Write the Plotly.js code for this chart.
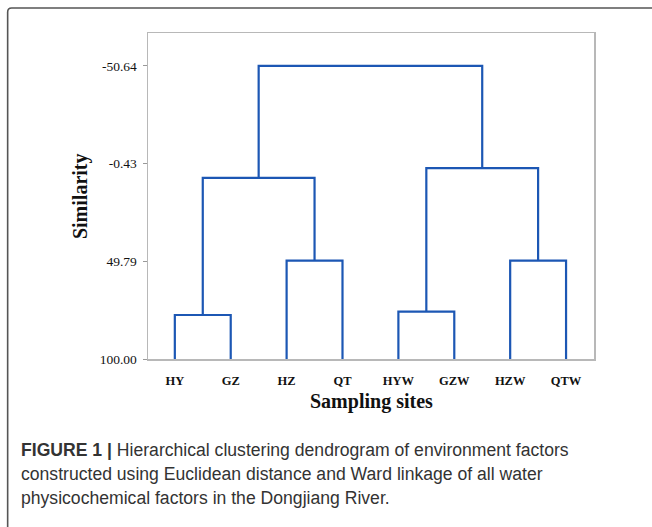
<!DOCTYPE html>
<html>
<head>
<meta charset="utf-8">
<script src="https://cdn.plot.ly/plotly-3.0.1.min.js"></script>
<style>
html,body{margin:0;padding:0;background:#fff;}
#chart{width:652px;height:527px;}
</style>
</head>
<body>
<div id="chart"></div>
<script>
// Leaves (sampling sites), in dendrogram order
const leaves = ["HY", "GZ", "HZ", "QT", "HYW", "GZW", "HZW", "QTW"];
// Linkage: node ids 0..7 are leaves, new nodes numbered 8, 9, ...
const mergeA = [0, 4, 2, 6, 8, 9, 12];
const mergeB = [1, 5, 3, 7, 10, 11, 13];
const mergeSimilarity = [77.4, 75.7, 49.5, 49.5, 6.9, 1.9, -50.64];
const leafSimilarity = 100;
// Y ticks
const yTickVals = [-50.64, -0.43, 49.79, 100];
const yTickText = ["-50.64", "-0.43", "49.79", "100.00"];

const captionLines = [
  "<b>FIGURE 1 |</b> Hierarchical clustering dendrogram of environment factors",
  "constructed using Euclidean distance and Ward linkage of all water",
  "physicochemical factors in the Dongjiang River."
];

// Build node positions
const nodeX = leaves.map((_, i) => i + 1);
const nodeH = leaves.map(() => leafSimilarity);
const xs = [], ys = [];
for (let k = 0; k < mergeA.length; k++) {
  const a = mergeA[k], b = mergeB[k], h = mergeSimilarity[k];
  xs.push(nodeX[a], nodeX[a], nodeX[b], nodeX[b], null);
  ys.push(nodeH[a], h, h, nodeH[b], null);
  nodeX.push((nodeX[a] + nodeX[b]) / 2);
  nodeH.push(h);
}

const trace = {
  type: "scatter", mode: "lines", x: xs, y: ys,
  line: {color: "#1c57b4", width: 2.2}, hoverinfo: "skip", showlegend: false,
  connectgaps: false
};

// Geometry helpers for paper coords
const L = 148, R = 57.5, T = 33, B = 168, W = 652, H = 527;
const pw = W - L - R, ph = H - T - B;
const px = v => (v - L) / pw;
const py = v => (H - B - v) / ph;

const serif = "Liberation Serif, Times New Roman, serif";
const sans = "Liberation Sans, Arial, sans-serif";

const annotations = [
  {text: "<b>Similarity</b>", xref: "paper", yref: "paper", x: px(80), y: 0.5,
   textangle: -90, showarrow: false, xanchor: "center", yanchor: "middle",
   font: {family: serif, size: 20, color: "#111"}},
  {text: "<b>Sampling sites</b>", xref: "paper", yref: "paper", x: 0.5, y: py(401),
   showarrow: false, xanchor: "center", yanchor: "middle",
   font: {family: serif, size: 20, color: "#111"}}
];
const capY = [450, 474, 497.5];
captionLines.forEach((t, i) => annotations.push({
  text: t, xref: "paper", yref: "paper", x: px(19), y: py(capY[i]),
  showarrow: false, xanchor: "left", yanchor: "middle", align: "left",
  font: {family: sans, size: 17.6, color: "#333"}
}));

const layout = {
  width: W, height: H,
  margin: {l: L, r: R, t: T, b: B},
  paper_bgcolor: "#fff", plot_bgcolor: "#fff",
  xaxis: {
    range: [0.52, 8.5], tickvals: leaves.map((_, i) => i + 1), ticktext: leaves,
    showgrid: false, zeroline: false, showline: true, mirror: true,
    linecolor: "#b8b8b8", linewidth: 1.5, ticks: "", ticklabelstandoff: 9,
    tickfont: {family: serif, size: 12.5, color: "#111", weight: "bold"}
  },
  yaxis: {
    range: [100, -67.5], tickvals: yTickVals, ticktext: yTickText,
    showgrid: false, zeroline: false, showline: true, mirror: true,
    linecolor: "#b8b8b8", linewidth: 1.5, ticks: "outside", ticklen: 4,
    tickcolor: "#999", tickwidth: 1, ticklabelstandoff: 3,
    tickfont: {family: serif, size: 13.5, color: "#111"}
  },
  shapes: [
    {type: "path", xref: "paper", yref: "paper",
     path: `M ${px(7.5)},${py(560)} L ${px(7.5)},${py(12)} Q ${px(7.5)},${py(8)} ${px(11.5)},${py(8)} L ${px(700)},${py(8)}`,
     line: {color: "#555", width: 1.6}}
  ],
  annotations: annotations
};

Plotly.newPlot("chart", [trace], layout, {staticPlot: true, displayModeBar: false});
</script>
</body>
</html>
